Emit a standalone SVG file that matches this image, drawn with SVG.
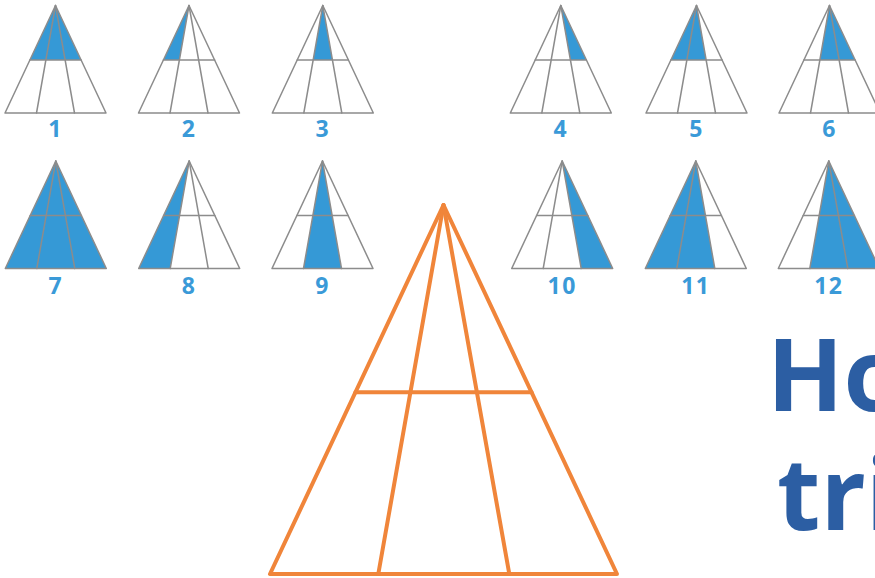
<svg xmlns="http://www.w3.org/2000/svg" xmlns:xlink="http://www.w3.org/1999/xlink" width="875" height="578" viewBox="0 0 875 578">
<style>
.ln{fill:none;stroke:#8c8c8c;stroke-width:1.5;stroke-linejoin:round;stroke-linecap:round}
.sh{fill:#3599d6;stroke:none}
.num{font-family:"Open Sans","Liberation Sans",sans-serif;font-weight:700;font-size:23px;fill:#3a9ad8;text-anchor:middle;letter-spacing:1.5px}
.big{fill:none;stroke:#f0853a;stroke-width:4;stroke-linecap:round;stroke-linejoin:round}
.title{font-family:"Open Sans","Liberation Sans",sans-serif;font-weight:700;font-size:100px;fill:#2c5ea3}
</style>
<defs>
<g id="tri">
<polygon class="ln" points="0,0 -50.5,107.5 50.5,107.5"/>
<line class="ln" x1="0" y1="0" x2="-19" y2="107.5"/>
<line class="ln" x1="0" y1="0" x2="19" y2="107.5"/>
<line class="ln" x1="-25.6" y1="54.5" x2="25.6" y2="54.5"/>
</g>
</defs>
<rect width="875" height="578" fill="#ffffff"/>
<g id="t1" transform="translate(55.5,5.5)"><polygon class="sh" points="0,0 -25.6,54.5 25.6,54.5"/><use href="#tri" xlink:href="#tri"/><text class="num" x="0" y="131">1</text></g>
<g id="t2" transform="translate(189,5.5)"><polygon class="sh" points="0,0 -25.6,54.5 -9.6,54.5"/><use href="#tri" xlink:href="#tri"/><text class="num" x="0" y="131">2</text></g>
<g id="t3" transform="translate(322.8,5.5)"><polygon class="sh" points="0,0 -9.6,54.5 9.6,54.5"/><use href="#tri" xlink:href="#tri"/><text class="num" x="0" y="131">3</text></g>
<g id="t4" transform="translate(560.8,5.5)"><polygon class="sh" points="0,0 9.6,54.5 25.6,54.5"/><use href="#tri" xlink:href="#tri"/><text class="num" x="0" y="131">4</text></g>
<g id="t5" transform="translate(696.5,5.5)"><polygon class="sh" points="0,0 -25.6,54.5 9.6,54.5"/><use href="#tri" xlink:href="#tri"/><text class="num" x="0" y="131">5</text></g>
<g id="t6" transform="translate(829.5,5.5)"><polygon class="sh" points="0,0 -9.6,54.5 25.6,54.5"/><use href="#tri" xlink:href="#tri"/><text class="num" x="0" y="131">6</text></g>
<g id="t7" transform="translate(55.8,161)"><polygon class="sh" points="0,0 -50.5,107.5 50.5,107.5"/><use href="#tri" xlink:href="#tri"/><text class="num" x="0" y="133">7</text></g>
<g id="t8" transform="translate(189.2,161)"><polygon class="sh" points="0,0 -50.5,107.5 -19,107.5"/><use href="#tri" xlink:href="#tri"/><text class="num" x="0" y="133">8</text></g>
<g id="t9" transform="translate(322.5,161)"><polygon class="sh" points="0,0 -19,107.5 19,107.5"/><use href="#tri" xlink:href="#tri"/><text class="num" x="0" y="133">9</text></g>
<g id="t10" transform="translate(562.2,161)"><polygon class="sh" points="0,0 19,107.5 50.5,107.5"/><use href="#tri" xlink:href="#tri"/><text class="num" x="0" y="133">10</text></g>
<g id="t11" transform="translate(695.8,161)"><polygon class="sh" points="0,0 -50.5,107.5 19,107.5"/><use href="#tri" xlink:href="#tri"/><text class="num" x="0" y="133">11</text></g>
<g id="t12" transform="translate(828.8,161)"><polygon class="sh" points="0,0 -19,107.5 50.5,107.5"/><use href="#tri" xlink:href="#tri"/><text class="num" x="0" y="133">12</text></g>
<g id="big-triangle">
<polygon class="big" points="443.5,205 270,574 617,574"/>
<line class="big" x1="443.5" y1="205" x2="378.3" y2="574"/>
<line class="big" x1="443.5" y1="205" x2="509.3" y2="574"/>
<line class="big" x1="355.4" y1="392.3" x2="531.6" y2="392.3"/>
</g>
<g id="title">
<text class="title" x="767" y="410.7">Ho</text>
<text class="title" x="777" y="530">tri</text>
</g>
</svg>
